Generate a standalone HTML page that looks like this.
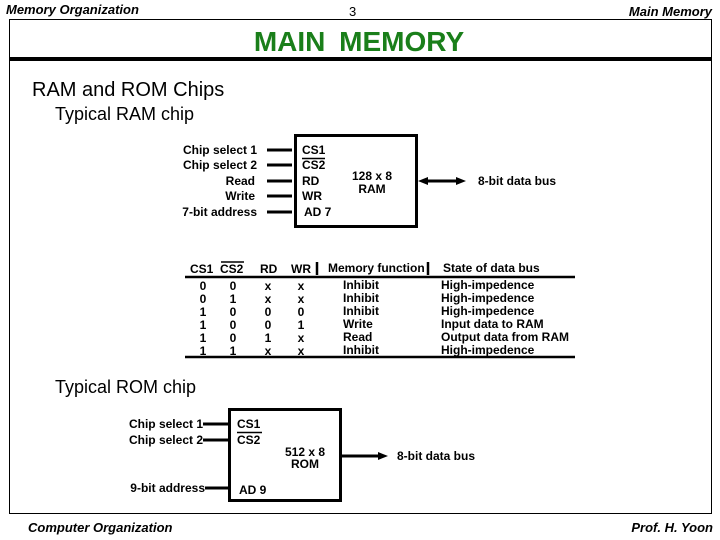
<!DOCTYPE html>
<html><head><meta charset="utf-8"><style>
body{margin:0;background:#fff}
svg{display:block;font-family:"Liberation Sans",sans-serif}
</style></head><body>
<svg width="720" height="540" viewBox="0 0 720 540" xmlns="http://www.w3.org/2000/svg">
<text x="6" y="14" font-size="13" font-style="italic" font-weight="bold">Memory Organization</text>
<text x="349" y="16" font-size="13">3</text>
<text x="712" y="16" font-size="13" font-style="italic" font-weight="bold" text-anchor="end">Main Memory</text>
<rect x="9.5" y="19.5" width="702" height="494" fill="none" stroke="#000" stroke-width="1"/>
<rect x="10" y="57" width="702" height="4" fill="#000"/>
<text x="359" y="51" font-size="28" font-weight="bold" fill="#1a7f1a" text-anchor="middle" word-spacing="6">MAIN  MEMORY</text>
<text x="32" y="96" font-size="20">RAM and ROM Chips</text>
<text x="55" y="120" font-size="18">Typical RAM chip</text>

<g font-size="12" font-weight="bold">
<rect x="295.5" y="135.5" width="121" height="91" fill="none" stroke="#000" stroke-width="3"/>
<g stroke="#000" stroke-width="3">
<line x1="267" y1="150" x2="292" y2="150"/><line x1="267" y1="165" x2="292" y2="165"/>
<line x1="267" y1="181" x2="292" y2="181"/><line x1="267" y1="196" x2="292" y2="196"/>
<line x1="267" y1="212" x2="292" y2="212"/>
<line x1="424" y1="181" x2="460" y2="181"/>
</g>
<polygon points="418,181 428,177 428,185"/><polygon points="466,181 456,177 456,185"/>
<g text-anchor="end"><text x="257" y="154">Chip select 1</text><text x="257" y="169">Chip select 2</text>
<text x="255" y="185">Read</text><text x="255" y="200">Write</text><text x="257" y="216">7-bit address</text></g>
<text x="302" y="154">CS1</text><line x1="302" y1="158.5" x2="325" y2="158.5" stroke="#000" stroke-width="1.5"/>
<text x="302" y="169">CS2</text><text x="302" y="185">RD</text><text x="302" y="200">WR</text><text x="304" y="216">AD 7</text>
<text x="372" y="180" text-anchor="middle">128 x 8</text><text x="372" y="193" text-anchor="middle">RAM</text>
<text x="478" y="185">8-bit data bus</text>

<text x="190" y="273">CS1</text><text x="220" y="273">CS2</text><line x1="221" y1="262" x2="244" y2="262" stroke="#000" stroke-width="1.5"/>
<text x="260" y="273">RD</text><text x="291" y="273">WR</text>
<text x="328" y="272">Memory function</text><text x="443" y="272">State of data bus</text>
<line x1="317" y1="262" x2="317" y2="275" stroke="#000" stroke-width="2.5"/>
<line x1="428" y1="262" x2="428" y2="275" stroke="#000" stroke-width="2.5"/>
<line x1="185" y1="277" x2="575" y2="277" stroke="#000" stroke-width="2.5"/>
<line x1="185" y1="357" x2="575" y2="357" stroke="#000" stroke-width="2.5"/>
<g text-anchor="middle">
<text x="203" y="290">0</text><text x="233" y="290">0</text><text x="268" y="290">x</text><text x="301" y="290">x</text>
<text x="203" y="303">0</text><text x="233" y="303">1</text><text x="268" y="303">x</text><text x="301" y="303">x</text>
<text x="203" y="316">1</text><text x="233" y="316">0</text><text x="268" y="316">0</text><text x="301" y="316">0</text>
<text x="203" y="329">1</text><text x="233" y="329">0</text><text x="268" y="329">0</text><text x="301" y="329">1</text>
<text x="203" y="342">1</text><text x="233" y="342">0</text><text x="268" y="342">1</text><text x="301" y="342">x</text>
<text x="203" y="355">1</text><text x="233" y="355">1</text><text x="268" y="355">x</text><text x="301" y="355">x</text>
</g>
<text x="343" y="289">Inhibit</text><text x="343" y="302">Inhibit</text><text x="343" y="315">Inhibit</text>
<text x="343" y="328">Write</text><text x="343" y="341">Read</text><text x="343" y="354">Inhibit</text>
<text x="441" y="289">High-impedence</text><text x="441" y="302">High-impedence</text><text x="441" y="315">High-impedence</text>
<text x="441" y="328">Input data to RAM</text><text x="441" y="341">Output data from RAM</text><text x="441" y="354">High-impedence</text>
</g>

<text x="55" y="393" font-size="18">Typical ROM chip</text>
<g font-size="12" font-weight="bold">
<rect x="229.5" y="409.5" width="111" height="91" fill="none" stroke="#000" stroke-width="3"/>
<g stroke="#000" stroke-width="3">
<line x1="203" y1="424" x2="228" y2="424"/><line x1="203" y1="440" x2="228" y2="440"/>
<line x1="205" y1="488" x2="228" y2="488"/><line x1="342" y1="456" x2="382" y2="456"/>
</g>
<polygon points="388,456 378,452 378,460"/>
<g text-anchor="end"><text x="203" y="428">Chip select 1</text><text x="203" y="444">Chip select 2</text><text x="205" y="492">9-bit address</text></g>
<text x="237" y="428">CS1</text><line x1="237" y1="432.5" x2="262" y2="432.5" stroke="#000" stroke-width="1.5"/>
<text x="237" y="444">CS2</text><text x="239" y="494">AD 9</text>
<text x="305" y="456" text-anchor="middle">512 x 8</text><text x="305" y="468" text-anchor="middle">ROM</text>
<text x="397" y="460">8-bit data bus</text>
</g>

<text x="28" y="532" font-size="13" font-style="italic" font-weight="bold">Computer Organization</text>
<text x="713" y="532" font-size="13" font-style="italic" font-weight="bold" text-anchor="end">Prof.  H. Yoon</text>
</svg>
</body></html>
